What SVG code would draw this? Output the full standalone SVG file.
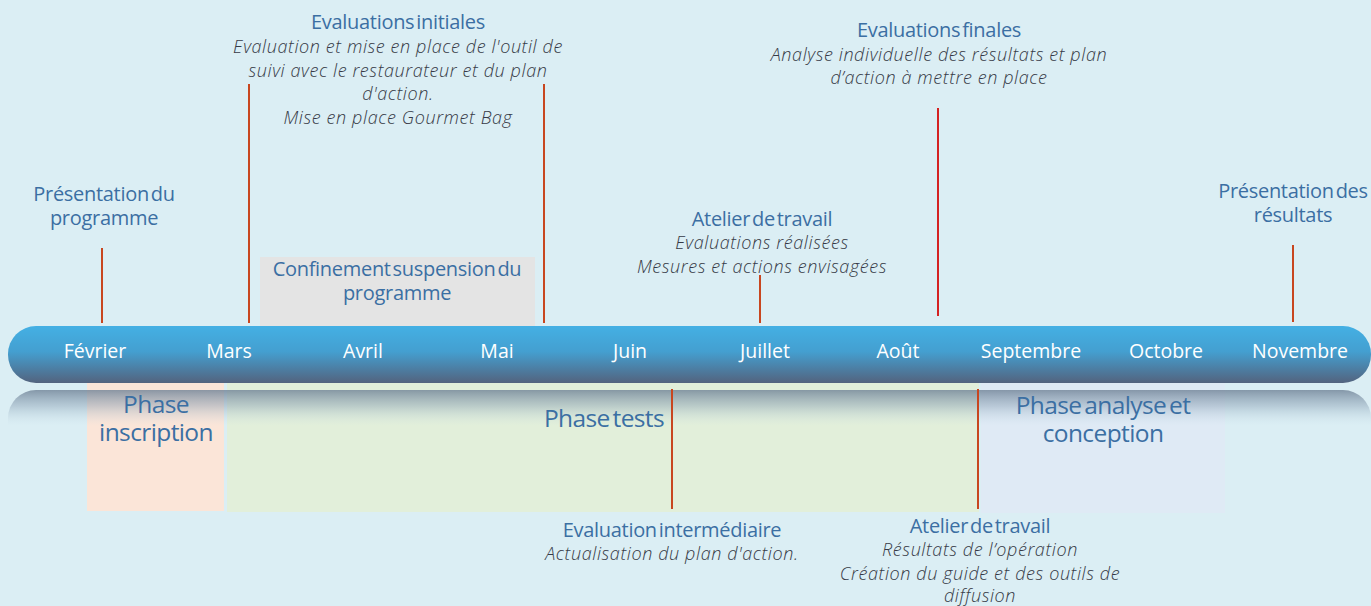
<svg xmlns="http://www.w3.org/2000/svg" width="1371" height="606" viewBox="0 0 1371 606">
<defs>
<linearGradient id="bar" x1="0" y1="0" x2="0" y2="1">
<stop offset="0" stop-color="#44b0e4"/>
<stop offset="0.45" stop-color="#449fd0"/>
<stop offset="1" stop-color="#53637e"/>
</linearGradient>
<linearGradient id="refl" x1="0" y1="0" x2="0" y2="1">
<stop offset="0" stop-color="#6f8296" stop-opacity="0.8"/>
<stop offset="0.45" stop-color="#8aa0b4" stop-opacity="0.45"/>
<stop offset="1" stop-color="#c4dce8" stop-opacity="0"/>
</linearGradient>
</defs>
<style>
.h{font-family:"Open Sans","Liberation Sans",sans-serif;font-size:20px;fill:#3b6fa3;text-anchor:middle;letter-spacing:-0.3px;word-spacing:-3px}
.i{font-family:"Open Sans","Liberation Sans",sans-serif;font-size:18px;font-style:italic;font-weight:300;fill:#363a46;text-anchor:middle;letter-spacing:0.6px}
.m{font-family:"Open Sans","Liberation Sans",sans-serif;font-size:19.5px;fill:#ffffff;text-anchor:middle}
.p{font-family:"Open Sans","Liberation Sans",sans-serif;font-size:24.5px;fill:#3b6fa3;text-anchor:middle;letter-spacing:-0.6px;word-spacing:-3px}
.r{stroke:#c8461f;stroke-width:2;fill:none}
</style>
<rect width="1371" height="606" fill="#dbeef4"/>

<g id="phase-inscription">
<rect x="87" y="383" width="137" height="128" fill="#fbe5d8"/>
</g>
<g id="phase-tests">
<rect x="227" y="383" width="752" height="129" fill="#e2efda"/>
</g>
<g id="phase-analyse">
<rect x="981" y="383" width="244" height="130" fill="#dfeaf5"/>
</g>
<g id="reflection">
<path d="M8,418 A28,28 0 0 1 36,390 H1343 A28,28 0 0 1 1371,418 V426 H8 Z" fill="url(#refl)"/>
</g>
<g id="phase-labels">
<text class="p" x="156" y="413">Phase</text>
<text class="p" x="156" y="441">inscription</text>
<text class="p" x="604" y="427">Phase tests</text>
<text class="p" x="1103" y="414">Phase analyse et</text>
<text class="p" x="1103" y="442">conception</text>
</g>

<g id="confinement">
<rect x="260" y="257" width="275" height="69" fill="#e4e4e4"/>
<text class="h" x="397" y="276">Confinement suspension du</text>
<text class="h" x="397" y="300">programme</text>
</g>

<g id="connectors">
<line class="r" x1="102" y1="248" x2="102" y2="323"/>
<line class="r" x1="249" y1="84" x2="249" y2="323"/>
<line class="r" x1="544" y1="84" x2="544" y2="323"/>
<line class="r" x1="760" y1="275" x2="760" y2="323"/>
<line x1="938" y1="108" x2="938" y2="316" stroke="#d42222" stroke-width="2"/>
<line class="r" x1="1293" y1="245" x2="1293" y2="322"/>
<line class="r" x1="672" y1="389" x2="672" y2="509"/>
<line class="r" x1="978" y1="389" x2="978" y2="509"/>
</g>

<g id="timeline">
<rect x="8" y="326" width="1363" height="57" rx="28" fill="url(#bar)"/>
<text class="m" x="95" y="358">Février</text>
<text class="m" x="229" y="358">Mars</text>
<text class="m" x="363" y="358">Avril</text>
<text class="m" x="497" y="358">Mai</text>
<text class="m" x="630" y="358">Juin</text>
<text class="m" x="765" y="358">Juillet</text>
<text class="m" x="898" y="358">Août</text>
<text class="m" x="1031" y="358">Septembre</text>
<text class="m" x="1166" y="358">Octobre</text>
<text class="m" x="1300" y="358">Novembre</text>
</g>

<g id="presentation-programme">
<text class="h" x="104" y="201">Présentation du</text>
<text class="h" x="104" y="225">programme</text>
</g>
<g id="evaluations-initiales">
<text class="h" x="398" y="29">Evaluations initiales</text>
<text class="i" x="398" y="53">Evaluation et mise en place de l'outil de</text>
<text class="i" x="398" y="77">suivi avec le restaurateur et du plan</text>
<text class="i" x="398" y="100">d'action.</text>
<text class="i" x="398" y="124">Mise en place Gourmet Bag</text>
</g>
<g id="atelier-juillet">
<text class="h" x="762" y="226">Atelier de travail</text>
<text class="i" x="762" y="249">Evaluations réalisées</text>
<text class="i" x="762" y="273">Mesures et actions envisagées</text>
</g>
<g id="evaluations-finales">
<text class="h" x="939" y="37">Evaluations finales</text>
<text class="i" x="939" y="61">Analyse individuelle des résultats et plan</text>
<text class="i" x="939" y="84">d’action à mettre en place</text>
</g>
<g id="presentation-resultats">
<text class="h" x="1293" y="198">Présentation des</text>
<text class="h" x="1293" y="222">résultats</text>
</g>
<g id="evaluation-intermediaire">
<text class="h" x="672" y="537">Evaluation intermédiaire</text>
<text class="i" x="672" y="560">Actualisation du plan d'action.</text>
</g>
<g id="atelier-septembre">
<text class="h" x="980" y="533">Atelier de travail</text>
<text class="i" x="980" y="556">Résultats de l’opération</text>
<text class="i" x="980" y="580">Création du guide et des outils de</text>
<text class="i" x="980" y="602">diffusion</text>
</g>
</svg>
